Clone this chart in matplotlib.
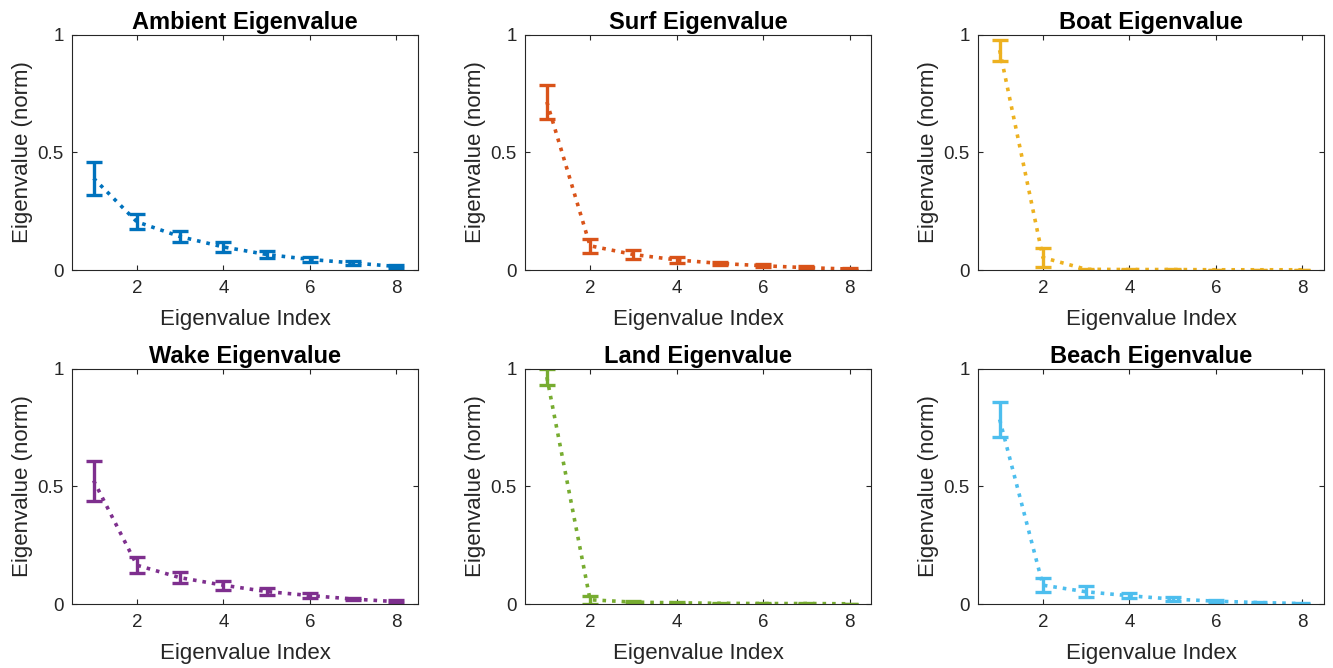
import numpy as np
import matplotlib
matplotlib.use("Agg")
import matplotlib.pyplot as plt

plt.rcParams["font.family"] = ["Liberation Sans", "DejaVu Sans"]

# ----------------- Data -----------------
idx = [1, 2, 3, 4, 5, 6, 7, 8]
titles = ["Ambient Eigenvalue", "Surf Eigenvalue", "Boat Eigenvalue",
          "Wake Eigenvalue", "Land Eigenvalue", "Beach Eigenvalue"]
colors = ["#0072BD", "#D95319", "#EDB120", "#7E2F8E", "#77AC30", "#4DBEEE"]

ambient_mean = [0.39, 0.205, 0.142, 0.098, 0.066, 0.045, 0.030, 0.015]
ambient_err = [0.070, 0.032, 0.024, 0.022, 0.016, 0.012, 0.008, 0.006]
surf_mean = [0.715, 0.103, 0.066, 0.043, 0.028, 0.018, 0.010, 0.004]
surf_err = [0.073, 0.029, 0.019, 0.012, 0.008, 0.006, 0.005, 0.003]
boat_mean = [0.935, 0.053, 0.003, 0.002, 0.002, 0.001, 0.001, 0.001]
boat_err = [0.045, 0.040, 0.003, 0.002, 0.002, 0.001, 0.001, 0.001]
wake_mean = [0.525, 0.165, 0.112, 0.080, 0.053, 0.036, 0.021, 0.010]
wake_err = [0.085, 0.034, 0.024, 0.019, 0.013, 0.009, 0.006, 0.005]
land_mean = [0.965, 0.018, 0.008, 0.005, 0.003, 0.002, 0.002, 0.001]
land_err = [0.035, 0.018, 0.005, 0.003, 0.002, 0.002, 0.001, 0.001]
beach_mean = [0.785, 0.080, 0.052, 0.035, 0.021, 0.012, 0.006, 0.002]
beach_err = [0.075, 0.031, 0.024, 0.010, 0.007, 0.005, 0.004, 0.002]

means = [ambient_mean, surf_mean, boat_mean, wake_mean, land_mean, beach_mean]
errs = [ambient_err, surf_err, boat_err, wake_err, land_err, beach_err]

# ----------------- Plot -----------------
fig = plt.figure(figsize=(13.33, 6.68), dpi=100)
lefts = [0.054, 0.394, 0.7337]
bottoms = [0.5958, 0.0958]
w, h = 0.2596, 0.352

for k in range(6):
    r, c = divmod(k, 3)
    ax = fig.add_axes([lefts[c], bottoms[r], w, h])
    ax.errorbar(idx, means[k], yerr=errs[k], color=colors[k],
                linestyle=":", linewidth=2.6, elinewidth=2.4,
                capsize=5.5, capthick=2.4)
    ax.set_xlim(0.5, 8.5)
    ax.set_ylim(0, 1)
    ax.set_xticks([2, 4, 6, 8])
    ax.set_yticks([0, 0.5, 1])
    ax.set_yticklabels(["0", "0.5", "1"])
    ax.tick_params(direction="in", top=True, right=True, labelsize=13.5,
                   colors="#262626", length=3.5, width=0.8)
    ax.tick_params(axis="x", pad=7)
    ax.tick_params(axis="y", pad=6)
    for s in ax.spines.values():
        s.set_color("#262626")
        s.set_linewidth(0.8)
    ax.set_title(titles[k], fontsize=17, fontweight="bold", pad=4)
    ax.set_xlabel("Eigenvalue Index", fontsize=16, color="#262626", labelpad=9)
    ax.set_ylabel("Eigenvalue (norm)", fontsize=16, color="#262626", labelpad=3)

fig.savefig("out.png", dpi=100)
